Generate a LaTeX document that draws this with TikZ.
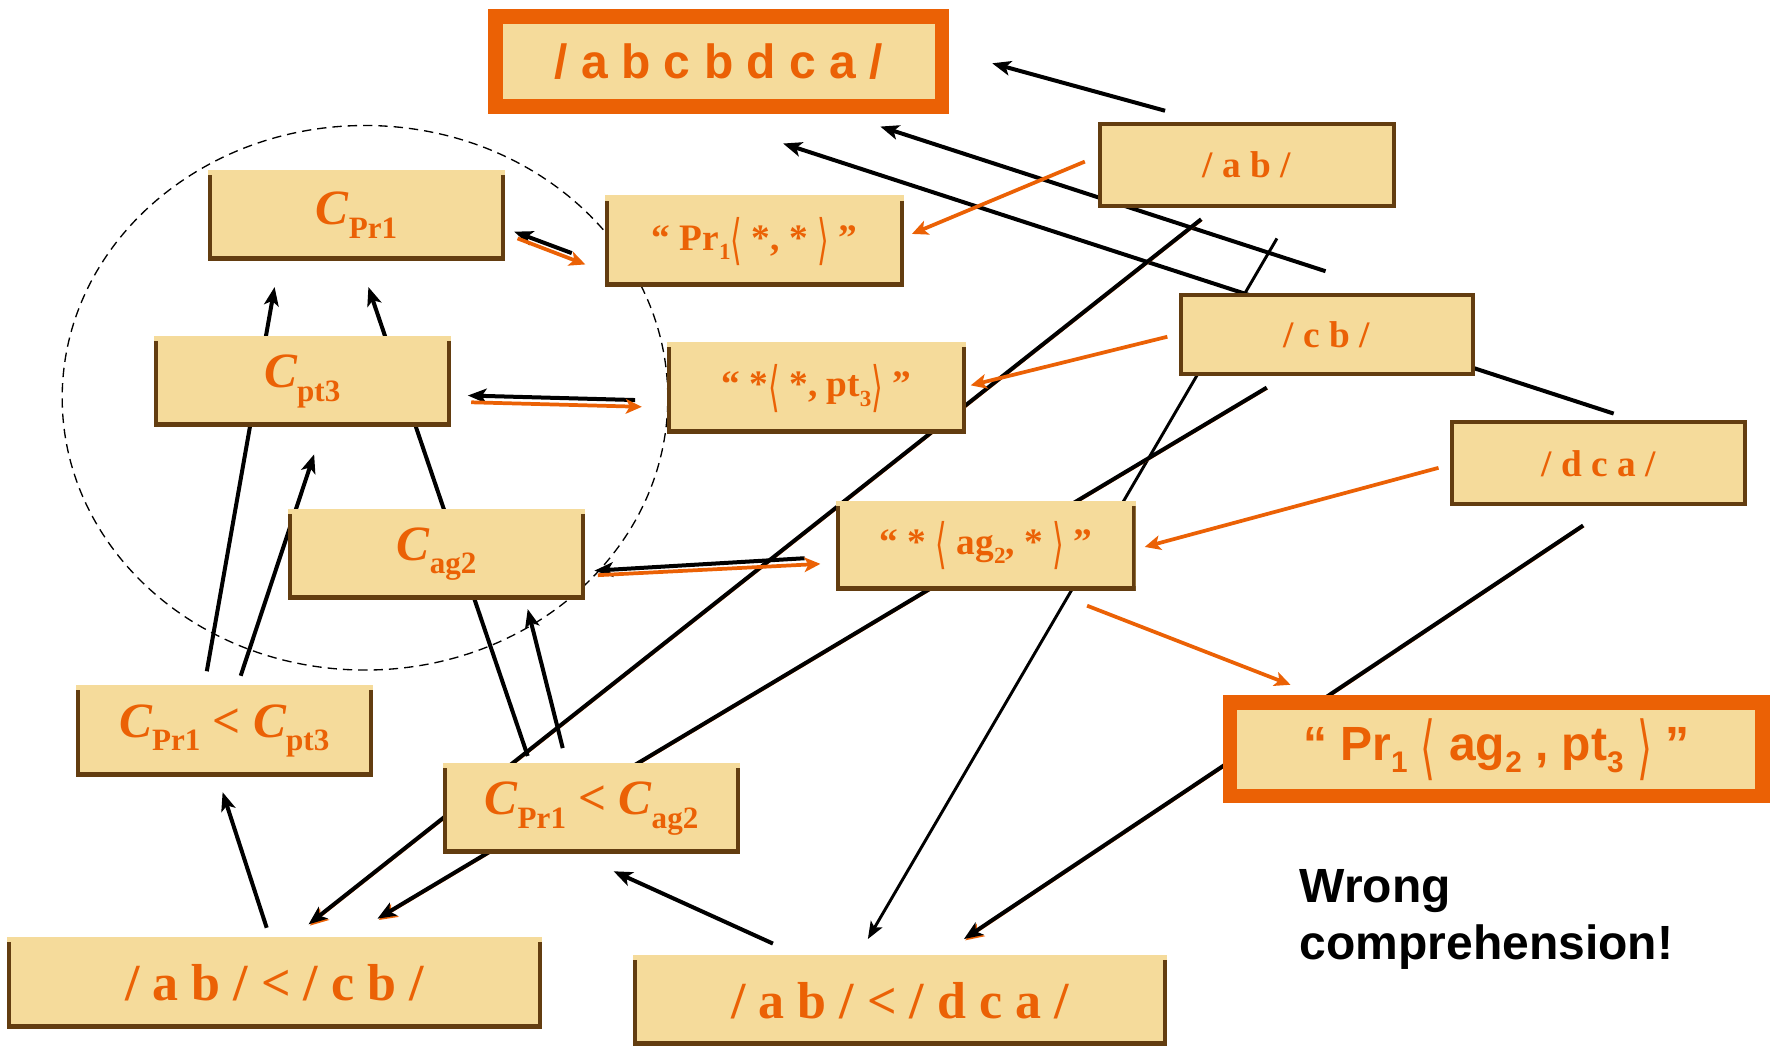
\documentclass[tikz,border=0pt]{standalone}
\usepackage{fontspec}
\setmainfont{Liberation Serif}
\newfontfamily\arialf{Liberation Sans}
\newfontfamily\djv{DejaVu Sans}
\usetikzlibrary{arrows.meta}
\definecolor{boxfill}{RGB}{245,219,155}
\definecolor{boxbrown}{RGB}{99,61,16}
\definecolor{hotor}{RGB}{235,97,5}
\newcommand\sbx[1]{\raisebox{-0.25em}{\scalebox{0.62}{#1}}}
\newcommand\Cx[1]{{\itshape C}\raisebox{-0.27em}{\scalebox{0.63}{\upshape #1}}}
\newcommand\lang{\raisebox{-0.22em}{\scalebox{0.8}[1.45]{\djv\mdseries ⟨}}}
\newcommand\rang{\raisebox{-0.22em}{\scalebox{0.8}[1.45]{\djv\mdseries ⟩}}}
\tikzset{
  sz/.style 2 args={minimum width=#1*0.8475pt, minimum height=#2*0.8475pt},
  bev/.style={fill=boxfill, inner sep=0pt, text=hotor,
    path picture={
      \fill[boxbrown] (path picture bounding box.south west) rectangle ([xshift=3pt,yshift=-3.8pt]path picture bounding box.north west);
      \fill[boxbrown] (path picture bounding box.south east) rectangle ([xshift=-3pt,yshift=-3.8pt]path picture bounding box.north east);
      \fill[boxbrown] (path picture bounding box.south west) rectangle ([yshift=4pt]path picture bounding box.south east);}},
  frm/.style={fill=boxfill, draw=boxbrown, line width=3pt, inner sep=0pt, text=hotor},
  hot/.style={fill=boxfill, draw=hotor, line width=11pt, inner sep=0pt, text=hotor},
  f28/.style={font=\bfseries\fontsize{28}{32}\selectfont},
  f37/.style={font=\bfseries\fontsize{37}{40}\selectfont},
  f39/.style={font=\bfseries\fontsize{39}{42}\selectfont},
  s36/.style={font=\arialf\bfseries\fontsize{36}{40}\selectfont},
  blk/.style={draw=black, line width=3pt, -{Stealth[length=14pt,width=11pt,inset=3.5pt]}},
  thn/.style={draw=black, line width=2.2pt, -{Stealth[length=13pt,width=10pt,inset=3pt]}},
  org/.style={draw=hotor, line width=2.8pt, -{Stealth[length=12pt,width=11pt,inset=3pt]}},
  shd/.style={preaction={draw=hotor, transform canvas={shift={(1pt,-1pt)}}}},
}
\begin{document}
\begin{tikzpicture}[x=0.8475pt,y=-0.8475pt]
\useasboundingbox (0,0) rectangle (1568.1,929.2);
% dashed ellipse
\draw[line width=1pt, dash pattern=on 7pt off 4.5pt] (323,352) ellipse [x radius=227.1pt, y radius=204.2pt];
% connector end points
\coordinate (a1) at (1031,98);  \coordinate (a2) at (878,56);
\coordinate (b1) at (1173,240); \coordinate (b2) at (779,112);
\coordinate (c1) at (1428,366); \coordinate (c2) at (693,127);
\coordinate (d1) at (1063,194); \coordinate (d2) at (273,818);
\coordinate (e1) at (1130,211); \coordinate (e2) at (768,831);
\coordinate (f1) at (1121,343); \coordinate (f2) at (334,813);
\coordinate (g1) at (1401,465); \coordinate (g2) at (853,831);
\coordinate (h1) at (684,835);  \coordinate (h2) at (543,771);
\coordinate (i1) at (236,821);  \coordinate (i2) at (197,701);
\coordinate (j1) at (183,594);  \coordinate (j2) at (243,254);
\coordinate (k1) at (213,598);  \coordinate (k2) at (278,402);
\coordinate (l1) at (467,669);  \coordinate (l2) at (326,254);
\coordinate (m1) at (498,662);  \coordinate (m2) at (467,539);
\coordinate (nb1) at (506,224); \coordinate (nb2) at (455,205);
\coordinate (no1) at (458,211); \coordinate (no2) at (518,234);
\coordinate (ob1) at (562,354); \coordinate (ob2) at (414,350);
\coordinate (oo1) at (417,356); \coordinate (oo2) at (568,360);
\coordinate (pb1) at (712,494); \coordinate (pb2) at (526,505);
\coordinate (po1) at (529,509); \coordinate (po2) at (726,499);
\coordinate (q1) at (960,143);  \coordinate (q2) at (807,207);
\coordinate (r1) at (1033,298); \coordinate (r2) at (859,341);
\coordinate (s1) at (1273,414); \coordinate (s2) at (1013,484);
\coordinate (t1) at (962,536);  \coordinate (t2) at (1142,606);
% black connectors
\draw[blk] (a1) -- (a2);
\draw[blk] (b1) -- (b2);
\draw[blk] (c1) -- (c2);
\draw[blk,shd] (d1) -- (d2);
\draw[thn] (e1) -- (e2);
\draw[blk,shd] (f1) -- (f2);
\draw[blk,shd] (g1) -- (g2);
\draw[blk] (h1) -- (h2);
\draw[blk] (i1) -- (i2);
\draw[blk] (j1) -- (j2);
\draw[blk] (k1) -- (k2);
\draw[blk] (l1) -- (l2);
\draw[blk] (m1) -- (m2);
% double connectors
\draw[blk] (nb1) -- (nb2);
\draw[org] (no1) -- (no2);
\draw[blk] (ob1) -- (ob2);
\draw[org] (oo1) -- (oo2);
\draw[blk] (pb1) -- (pb2);
\draw[org] (po1) -- (po2);
% orange connectors
\draw[org] (q1) -- (q2);
\draw[org] (r1) -- (r2);
\draw[org] (s1) -- (s2);
\draw[org] (t1) -- (t2);
% boxes
\node[hot, s36, sz={395}{80}] (top) at (636,54.5) {/ a b c b d c a /};
\node[frm, f28, sz={259.5}{72.5}] (ab) at (1103.5,146) {/ a b /};
\node[frm, f28, sz={258.5}{70.5}] (cb) at (1174,296) {/ c b /};
\node[frm, f28, sz={259.5}{72.5}] (dca) at (1414.5,410) {/ d c a /};
\node[bev, f37, sz={263}{81}] (cpr1) at (315.5,190.5) {\Cx{Pr1}};
\node[bev, f28, sz={265}{81}] (prb) at (667.5,213.5) {“ Pr\sbx{1}\lang{} *, * \rang{} ”};
\node[bev, f37, sz={263}{81}] (cpt3) at (267.5,337.5) {\Cx{pt3}};
\node[bev, f28, sz={265}{81}] (ptb) at (722.5,343.5) {“ *\lang{} *, pt\sbx{3}\rang{} ”};
\node[bev, f37, sz={263}{81}] (cag2) at (386.5,490.5) {\Cx{ag2}};
\node[bev, f28, sz={265}{80}] (agb) at (872.5,483) {“ * \lang{} ag\sbx{2}, * \rang{} ”};
\node[bev, f37, sz={263}{82}] (cp3) at (198.5,647) {\Cx{Pr1} < \Cx{pt3}};
\node[bev, f37, sz={263}{81}] (cpa) at (523.5,715.5) {\Cx{Pr1} < \Cx{ag2}};
\node[hot, s36, sz={471}{83}] (res) at (1324,663) {“ Pr\sbx{1} \lang{} ag\sbx{2} , pt\sbx{3} \rang{} ”};
\node[bev, f39, sz={474}{82}] (abcb) at (243,870) {/ a b / < / c b /};
\node[bev, f39, sz={473}{81}] (abdca) at (796.5,885.5) {/ a b / < / d c a /};
\node[anchor=north west, inner sep=0pt, align=left, font=\arialf\bfseries\fontsize{36}{43}\selectfont] (wrong) at (1150,769) {Wrong\\comprehension!};
\end{tikzpicture}
\end{document}
